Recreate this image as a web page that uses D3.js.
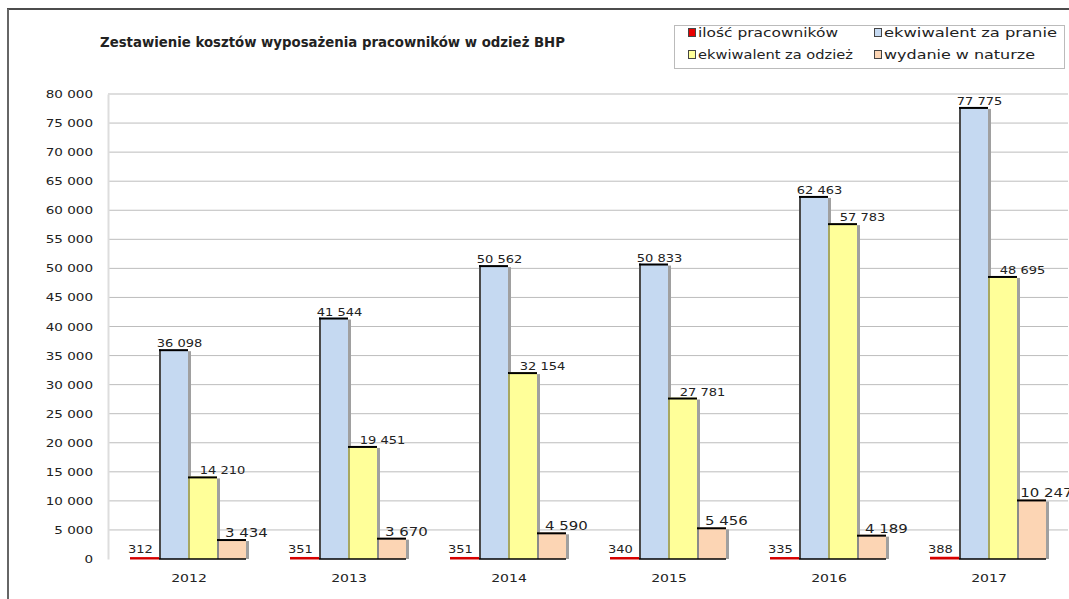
<!DOCTYPE html>
<html><head><meta charset="utf-8">
<script src="https://cdn.jsdelivr.net/npm/d3@7"></script>
<style>body{margin:0;background:#fff}svg{display:block}text{font-family:"DejaVu Sans",Verdana,sans-serif;fill:#222}</style>
</head><body><svg id="c" width="1069" height="599"></svg>
<script>
const years = ["2012","2013","2014","2015","2016","2017"];
const seriesNames = ["ilość pracowników","ekwiwalent za pranie","ekwiwalent za odzież","wydanie w naturze"];
const employees = [312,351,351,340,335,388];
const washing = [36098,41544,50562,50833,62463,77775];
const clothing = [14210,19451,32154,27781,57783,48695];
const inKind = [3434,3670,4590,5456,4189,10247];
const yTickValues = [0,5000,10000,15000,20000,25000,30000,35000,40000,45000,50000,55000,60000,65000,70000,75000,80000];
const title = "Zestawienie kosztów wyposażenia pracowników w odzież BHP";

const seriesValues = [employees, washing, clothing, inKind];
const colors = ["#e80000","#c5d9f1","#ffff99","#fcd5b4"];
const edgeColors = ["#800000","#4a4a4a","#a8a860","#8a8a8a"];
const labelDx = [-4, 6, 20, 15];
const labelSize = [10, 10, 10, 11.5];

const svg = d3.select("#c");
const fmt = v => d3.format(",")(v).replace(/,/g, " ");
function stretch(sel, k){ sel.each(function(){ const w=this.getComputedTextLength(); this.setAttribute("textLength", w*k); this.setAttribute("lengthAdjust","spacingAndGlyphs"); }); return sel; }

// frame
svg.append("line").attr("x1",7).attr("x2",1069).attr("y1",9).attr("y2",9).attr("stroke","#111").attr("stroke-width",1.5);
svg.append("line").attr("x1",8).attr("x2",8).attr("y1",9).attr("y2",599).attr("stroke","#666").attr("stroke-width",2);

const x0 = d3.scaleBand().domain(years).range([108,1068]).paddingInner(0.275).paddingOuter(0.1375);
const x1 = d3.scaleBand().domain(d3.range(4)).range([0, x0.bandwidth()]);
const y = d3.scaleLinear().domain([0,80000]).range([559,94]);

// grid
svg.append("g").selectAll("line").data(yTickValues.filter(v=>v>0)).join("line")
  .attr("x1",108).attr("x2",1068).attr("y1",d=>y(d)).attr("y2",d=>y(d))
  .attr("stroke","#bdbdbd").attr("stroke-width",1);

// y axis
const ya = svg.append("g").attr("transform","translate(108,0)")
  .call(d3.axisLeft(y).tickValues(yTickValues).tickFormat(fmt).tickSize(0).tickPadding(15));
ya.select(".domain").attr("stroke","#ddd").attr("stroke-width",2);
ya.selectAll("text").attr("font-size",10).attr("font-family","DejaVu Sans").attr("fill","#222").attr("dy","0.35em");
stretch(ya.selectAll("text"),1.35);

// bars
const data = [];
years.forEach((yr,i)=>seriesValues.forEach((arr,s)=>data.push({yr,s,v:arr[i]})));
const g = svg.append("g");
const bx = d => x0(d.yr)+x1(d.s);
const bw = x1.bandwidth();
// shadows
g.selectAll("rect.sh").data(data.filter(d=>d.s>0)).join("rect").attr("class","sh")
  .attr("x",d=>bx(d)+bw).attr("width",3).attr("y",d=>y(d.v)+2).attr("height",d=>y(0)-y(d.v)-2).attr("fill","#a0a0a0");
g.selectAll("rect.bar").data(data).join("rect").attr("class","bar")
  .attr("x",bx).attr("width",bw).attr("y",d=>y(d.v)).attr("height",d=>Math.max(1.5,y(0)-y(d.v))).attr("fill",d=>colors[d.s]);
// left edges
g.selectAll("line.le").data(data.filter(d=>d.s>0)).join("line").attr("class","le")
  .attr("x1",d=>bx(d)+1).attr("x2",d=>bx(d)+1).attr("y1",d=>y(d.v)).attr("y2",y(0))
  .attr("stroke",d=>edgeColors[d.s]).attr("stroke-width",2);
// top edges
g.selectAll("line.te").data(data.filter(d=>d.s>0)).join("line").attr("class","te")
  .attr("x1",bx).attr("x2",d=>bx(d)+bw).attr("y1",d=>y(d.v)+1).attr("y2",d=>y(d.v)+1)
  .attr("stroke","#000").attr("stroke-width",2);
// baseline per group
g.selectAll("line.bl").data(years).join("line").attr("class","bl")
  .attr("x1",d=>x0(d)+bw).attr("x2",d=>x0(d)+x0.bandwidth()).attr("y1",y(0)).attr("y2",y(0))
  .attr("stroke","#000").attr("stroke-width",1.5);
g.selectAll("line.rl").data(years).join("line").attr("class","rl")
  .attr("x1",d=>x0(d)).attr("x2",d=>x0(d)+bw).attr("y1",y(0)-0.5).attr("y2",y(0)-0.5)
  .attr("stroke","#d00000").attr("stroke-width",2);

// labels
const lab = svg.append("g").selectAll("text").data(data).join("text")
  .attr("x",d=>bx(d)+bw/2+labelDx[d.s]).attr("y",d=>y(d.v)-(d.s===0?4:2))
  .attr("text-anchor","middle").attr("font-size",d=>labelSize[d.s]).attr("fill","#111")
  .text(d=>fmt(d.v));
stretch(lab,1.3);

// x labels
const xl = svg.append("g").selectAll("text").data(years).join("text")
  .attr("x",d=>x0(d)+x0.bandwidth()/2+1).attr("y",582).attr("text-anchor","middle").attr("font-size",10).text(d=>d);
stretch(xl,1.4);

// title
const t = svg.append("text").attr("x",100).attr("y",47).attr("font-size",14).attr("font-weight","bold").attr("fill","#111").text(title);
t.attr("textLength",465).attr("lengthAdjust","spacingAndGlyphs");

// legend
svg.append("rect").attr("x",674.5).attr("y",25.5).attr("width",390).attr("height",43).attr("fill","#fff").attr("stroke","#bbb");
const legPos = [[688,36],[874,36],[688,58],[874,58]];
const legW = [140,173,155,151];
const lg = svg.append("g").selectAll("g").data(seriesNames).join("g")
  .attr("transform",(d,i)=>`translate(${legPos[i][0]},${legPos[i][1]})`);
lg.append("rect").attr("x",0.5).attr("y",-7.5).attr("width",7).attr("height",8).attr("fill",(d,i)=>colors[i]).attr("stroke","#444");
lg.append("text").attr("x",10).attr("y",1).attr("font-size",12).attr("fill","#333").text(d=>d)
  .attr("textLength",(d,i)=>legW[i]).attr("lengthAdjust","spacingAndGlyphs");
</script></body></html>
